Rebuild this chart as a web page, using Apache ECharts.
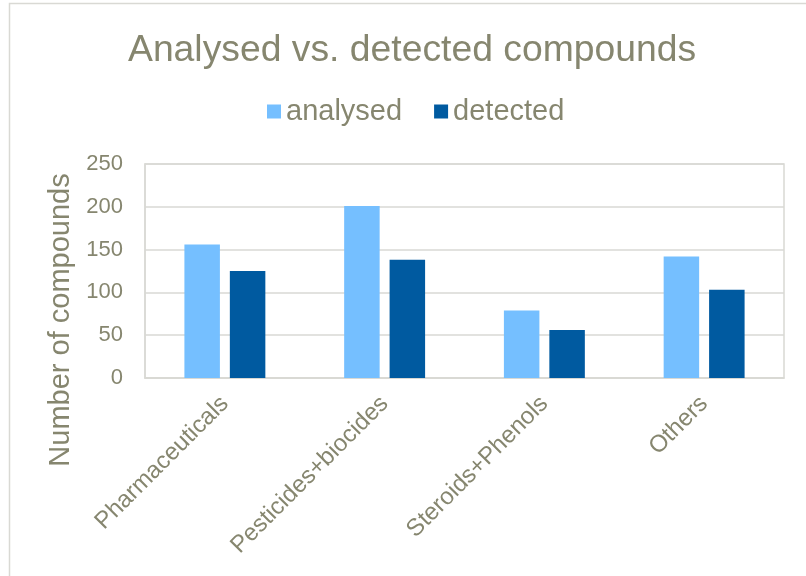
<!DOCTYPE html>
<html>
<head>
<meta charset="utf-8">
<script src="https://cdn.jsdelivr.net/npm/echarts@6/dist/echarts.min.js"></script>
<style>
  html, body { margin: 0; padding: 0; background: #ffffff; }
  #chart { width: 806px; height: 576px; }
</style>
</head>
<body>
<div id="chart"></div>
<script>
// Compound groups and counts per group
const categories = ['Pharmaceuticals', 'Pesticides+biocides', 'Steroids+Phenols', 'Others'];
const analysed = [156, 201, 79, 142];
const detected = [125, 138, 56, 103];
const yTicks = [0, 50, 100, 150, 200, 250];

const FONT = '"Liberation Sans", Arial, sans-serif';
const TEXT_COLOR = '#86866f';
const LINE_COLOR = '#d9d9d4';

const chart = echarts.init(document.getElementById('chart'), null, { renderer: 'canvas' });

chart.setOption({
  backgroundColor: '#ffffff',
  animation: false,
  title: {
    text: 'Analysed vs. detected compounds',
    left: 123,
    top: 27,
    textStyle: { fontFamily: FONT, fontSize: 37.3, fontWeight: 'normal', color: TEXT_COLOR }
  },
  legend: {
    data: ['analysed', 'detected'],
    left: 262,
    top: 92,
    icon: 'rect',
    itemWidth: 14,
    itemHeight: 14,
    itemGap: 32,
    textStyle: { fontFamily: FONT, fontSize: 29, color: TEXT_COLOR }
  },
  grid: {
    left: 145, right: 22, top: 164, bottom: 198,
    show: true, borderColor: LINE_COLOR, borderWidth: 1.5, backgroundColor: 'transparent'
  },
  xAxis: {
    type: 'category',
    data: categories,
    axisTick: { show: false },
    axisLine: { lineStyle: { color: LINE_COLOR, width: 1.5 } },
    axisLabel: {
      interval: 0, rotate: 45, margin: 22,
      fontFamily: FONT, fontSize: 24, color: TEXT_COLOR
    }
  },
  yAxis: {
    type: 'value',
    min: yTicks[0],
    max: yTicks[yTicks.length - 1],
    interval: yTicks[1] - yTicks[0],
    axisLine: { show: true, lineStyle: { color: LINE_COLOR, width: 1.5 } },
    axisTick: { show: false },
    splitLine: { lineStyle: { color: LINE_COLOR, width: 1.5 } },
    axisLabel: { margin: 22, fontFamily: FONT, fontSize: 22, color: TEXT_COLOR }
  },
  series: [
    {
      name: 'analysed', type: 'bar', data: analysed,
      barWidth: 35.5, barGap: '28%',
      itemStyle: { color: '#75bfff' }
    },
    {
      name: 'detected', type: 'bar', data: detected,
      barWidth: 35.5,
      itemStyle: { color: '#005aa0' }
    }
  ],
  graphic: [
    {
      type: 'rect', silent: true,
      shape: { x: 9.5, y: 3.5, width: 900, height: 700 },
      style: { fill: 'none', stroke: LINE_COLOR, lineWidth: 1.5 }
    },
    {
      type: 'text', silent: true,
      x: 61, y: 320, rotation: Math.PI / 2,
      style: {
        text: 'Number of compounds',
        font: '29px ' + FONT,
        fill: TEXT_COLOR,
        textAlign: 'center',
        textVerticalAlign: 'middle'
      }
    }
  ]
});
</script>
</body>
</html>
